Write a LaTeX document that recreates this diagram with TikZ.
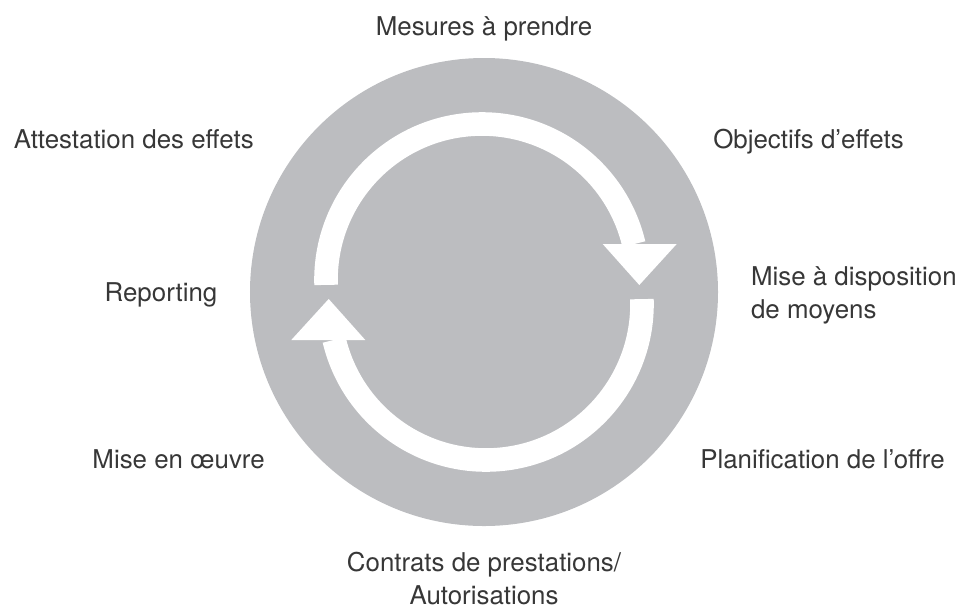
\documentclass[tikz,border=0pt]{standalone}
\usepackage{fontspec}
\setmainfont{TeX Gyre Heros}
\definecolor{ringgray}{RGB}{188,189,192}
\definecolor{textgray}{RGB}{55,55,55}
\begin{document}
\begin{tikzpicture}[phase/.style={text=textgray, inner sep=0pt, font=\fontsize{18.4}{23}\selectfont}]
		\useasboundingbox (-12.1,-7.9) rectangle (11.9,7.3);

		% Ring
		\fill[ringgray] (0,0) circle (5.85);

		% Two white arrows, the second one turned by half a circle
		\foreach \r in {0,180}{
			\begin{scope}[rotate=\r]
				\draw[white, line width=0.59cm] ([shift={(-0.05,0.3)}]181.8:3.9) arc[start angle=181.8, end angle=13.3, radius=3.9];
				\fill[white] (2.9675,1.2) -- (4.8175,1.2) -- (3.8825,0.175) -- cycle;
			\end{scope}
		}

		% Steps round the ring (two-line nodes sit on their last line)
		\node[phase, anchor=base] (mesures) at (0,6.425) {Mesures à prendre};
		\node[phase, anchor=base west] (objectifs) at (5.725,3.59) {Objectifs d’effets};
		\node[phase, anchor=base west, align=left] (moyens) at (6.67,-0.65) {Mise à disposition\\de moyens};
		\node[phase, anchor=base west] (planification) at (5.4,-4.41) {Planification de l’offre};
		\node[phase, anchor=base, align=center] (contrats) at (0,-7.8) {Contrats de prestations/\\Autorisations};
		\node[phase, anchor=base east] (oeuvre) at (-5.475,-4.41) {Mise en œuvre};
		\node[phase, anchor=base] (reporting) at (-8.075,-0.2425) {Reporting};
		\node[phase, anchor=base east] (attestation) at (-5.75,3.59) {Attestation des effets};
	\end{tikzpicture}
\end{document}
